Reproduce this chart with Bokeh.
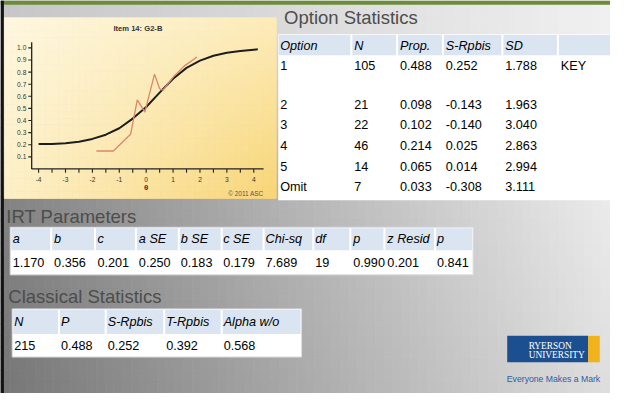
import numpy as np
from bokeh.plotting import figure
from bokeh.models import Range1d
from bokeh.core.properties import value
from bokeh.embed import file_html
from bokeh.resources import INLINE

# ---------------- data ----------------
chart_title = "Item 14: G2-B"
theta_labels = [-4, -3, -2, -1, 0, 1, 2, 3, 4]
theta_minor = [-4, -3.5, -3, -2.5, -2, -1.5, -1, -0.5, 0, 0.5, 1, 1.5, 2, 2.5, 3, 3.5, 4]
prob_ticks = [0.1, 0.2, 0.3, 0.4, 0.5, 0.6, 0.7, 0.8, 0.9, 1.0]
x_axis_title = "θ"
copyright_text = "© 2011 ASC"

icc_theta = [-4.0, -3.5, -3.0, -2.5, -2.0, -1.5, -1.0, -0.5, 0.0, 0.5, 1.0, 1.5, 2.0, 2.5, 3.0, 3.5, 4.0, 4.15]
icc_prob = [0.205, 0.207, 0.212, 0.224, 0.248, 0.283, 0.336, 0.416, 0.512, 0.630, 0.745, 0.835, 0.895, 0.935, 0.960, 0.975, 0.985, 0.988]

emp_theta = [-1.85, -1.22, -0.58, -0.33, -0.05, 0.31, 0.50, 0.62, 1.05, 1.41, 1.89]
emp_prob = [0.148, 0.148, 0.286, 0.571, 0.470, 0.783, 0.663, 0.650, 0.770, 0.849, 0.925]

opt_title = "Option Statistics"
opt_headers = ["Option", "N", "Prop.", "S-Rpbis", "SD", ""]
opt_option = ["1", "2", "3", "4", "5", "Omit"]
opt_n = ["105", "21", "22", "46", "14", "7"]
opt_prop = ["0.488", "0.098", "0.102", "0.214", "0.065", "0.033"]
opt_srpbis = ["0.252", "-0.143", "-0.140", "0.025", "0.014", "-0.308"]
opt_sd = ["1.788", "1.963", "3.040", "2.863", "2.994", "3.111"]
opt_flag = ["KEY", "", "", "", "", ""]

irt_title = "IRT Parameters"
irt_headers = ["a", "b", "c", "a SE", "b SE", "c SE", "Chi-sq", "df", "p", "z Resid", "p"]
irt_values = ["1.170", "0.356", "0.201", "0.250", "0.183", "0.179", "7.689", "19", "0.990", "0.201", "0.841"]

cls_title = "Classical Statistics"
cls_headers = ["N", "P", "S-Rpbis", "T-Rpbis", "Alpha w/o"]
cls_values = ["215", "0.488", "0.252", "0.392", "0.568"]

logo_lines = ["RYERSON", "UNIVERSITY"]
logo_tagline = "Everyone Makes a Mark"

# ---------------- layout / style ----------------
SW, SH = 626, 409           # slide coordinate space
W, H = 610, 393             # figure size (fits window with 8px margin)
FS = W / SW                 # font scale
SANS = "Liberation Sans"
SERIF = "Liberation Serif"

# IRT chart calibration (slide px)
TX0, TXS = 149.5, 27.6      # theta 0 position, px per theta unit
PY0, PYS = 175.3, 126.0     # prob 0 position, px per prob unit

p = figure(width=W, height=H, x_range=Range1d(0, SW), y_range=Range1d(SH, 0),
           output_backend="svg", toolbar_location=None, min_border=0,
           x_axis_location=None, y_axis_location=None)
p.grid.visible = False
p.outline_line_color = None
p.background_fill_color = "#ffffff"
p.border_fill_color = "#ffffff"
p.extra_x_ranges = {"theta": Range1d((0 - TX0) / TXS, (SW - TX0) / TXS)}
p.extra_y_ranges = {"prob": Range1d((PY0 - SH) / PYS, (PY0 - 0) / PYS)}


def hexc(r, g, b):
    return "#%02x%02x%02x" % (int(round(r)), int(round(g)), int(round(b)))


def grad_cells(x0, x1, y0, y1, nx, ny, colfun):
    xs = np.linspace(x0, x1, nx + 1)
    ys = np.linspace(y0, y1, ny + 1)
    L, R, T, B, C = [], [], [], [], []
    for i in range(nx):
        for j in range(ny):
            cx = (xs[i] + xs[i + 1]) / 2
            cy = (ys[j] + ys[j + 1]) / 2
            L.append(xs[i]); R.append(xs[i + 1]); T.append(ys[j]); B.append(ys[j + 1])
            C.append(hexc(*colfun(cx, cy)))
    p.quad(left=L, right=R, top=T, bottom=B, fill_color=C, line_color=C, line_width=0.8)


def bg_col(x, y):
    t = x / SW
    if y <= 35:
        l, r = 198, 240
    elif y <= 206:
        f = (y - 35) / 171
        l, r = 198 + (130 - 198) * f, 240 + (235 - 240) * f
    else:
        f = (y - 206) / 203
        l, r = 130 + (118 - 130) * f, 235 + (222 - 235) * f
    v = l + (r - l) * t
    return (v, v, v)


def panel_col(x, y):
    u = (x - 4) / 279
    v = (y - 18) / 188
    tl, tr, bl, br = (254, 247, 224), (252, 236, 186), (253, 240, 200), (248, 213, 118)
    return tuple(tl[k] * (1 - u) * (1 - v) + tr[k] * u * (1 - v) + bl[k] * (1 - u) * v + br[k] * u * v
                 for k in range(3))


# background
grad_cells(0, SW, 0, SH, 70, 34, bg_col)
p.quad(left=[0], right=[SW], top=[0], bottom=[4.5], fill_color="#6b8c38", line_color=None)
p.quad(left=[0], right=[3.5], top=[0], bottom=[SH], fill_color="#141414", line_color=None)

# chart panel
grad_cells(4, 283, 18, 206, 40, 27, panel_col)


def txt(xs, ys, texts, size, color="#000000", style="normal", align="left",
        baseline="middle", font=SANS, **kw):
    p.text(x=xs, y=ys, text=texts, text_font=value(font),
           text_font_size=value("%.2fpx" % (size * FS)), text_color=color,
           text_font_style=style, text_align=align, text_baseline=baseline, **kw)


TH = dict(x_range_name="theta", y_range_name="prob")
ax_theta = (32 - TX0) / TXS
ax_theta_end = (270 - TX0) / TXS
ax_prob_top = (PY0 - 43.5) / PYS
AX = "#222222"

# axes
p.segment(x0=[ax_theta], y0=[0], x1=[ax_theta], y1=[ax_prob_top], line_color=AX, line_width=1.3, **TH)
p.segment(x0=[ax_theta], y0=[0], x1=[ax_theta_end], y1=[0], line_color=AX, line_width=1.3, **TH)
p.segment(x0=[ax_theta] * len(prob_ticks), y0=prob_ticks,
          x1=[ax_theta - 3.5 / TXS] * len(prob_ticks), y1=prob_ticks,
          line_color=AX, line_width=1.1, **TH)
p.segment(x0=theta_minor, y0=[0] * len(theta_minor), x1=theta_minor,
          y1=[-4.0 / PYS] * len(theta_minor), line_color=AX, line_width=1.1, **TH)

txt([ax_theta - 5.5 / TXS] * len(prob_ticks), prob_ticks, ["%.1f" % v for v in prob_ticks],
    6.8, "#333333", align="right", **TH)
txt(theta_labels, [-11.5 / PYS] * len(theta_labels), [str(v) for v in theta_labels],
    6.8, "#333333", align="center", **TH)
txt([0], [-19.5 / PYS], [x_axis_title], 8, "#333333", style="bold", align="center", **TH)
txt([270], [200.5], [copyright_text], 6.6, "#555555", align="right")
txt([141], [29.5], [chart_title], 7.8, "#333333", style="bold", align="center")

# curves
p.line(icc_theta, icc_prob, line_color="#1e1e1e", line_width=2.0, **TH)
p.line(emp_theta, emp_prob, line_color="#d8876d", line_width=1.3, **TH)

# ---------------- tables ----------------
TITLE_C = "#4d4d4d"
HEAD_BG = "#dbe5f1"
TFS = 13.0

# Option statistics
p.quad(left=[285], right=[SW], top=[35], bottom=[208], fill_color="#ffffff", line_color=None)
p.quad(left=[285.5], right=[SW], top=[36], bottom=[57], fill_color=HEAD_BG, line_color=None)
opt_cols = [287, 363, 410, 457, 518, 575]
opt_seps = [360, 407, 454, 515, 572]
p.segment(x0=opt_seps, y0=[36] * 5, x1=opt_seps, y1=[57] * 5, line_color="#ffffff", line_width=2)
txt(opt_cols, [47] * 6, opt_headers, TFS, style="italic")
opt_rows_y = [68, 108, 129.5, 151, 172.5, 194]
for cx, col in zip(opt_cols, [opt_option, opt_n, opt_prop, opt_srpbis, opt_sd, opt_flag]):
    txt([cx] * len(col), opt_rows_y, col, TFS)
txt([291], [18.2], [opt_title], 19, TITLE_C)

# IRT parameters
p.quad(left=[10], right=[485], top=[236], bottom=[285.5], fill_color="#ffffff",
       line_color="#dcdcdc", line_width=1)
p.quad(left=[11], right=[484], top=[237], bottom=[260], fill_color=HEAD_BG, line_color=None)
irt_cols = [12.5, 55, 99.5, 142, 185, 228.5, 272, 323, 362, 397, 448]
irt_seps = [52, 97, 139, 183, 227, 270, 321, 359, 394, 446]
p.segment(x0=irt_seps, y0=[237] * len(irt_seps), x1=irt_seps, y1=[260] * len(irt_seps),
          line_color="#ffffff", line_width=2)
txt(irt_cols, [248.5] * len(irt_headers), irt_headers, TFS, style="italic")
txt(irt_cols, [272.5] * len(irt_values), irt_values, TFS)
txt([6], [225], [irt_title], 19, TITLE_C)

# Classical statistics
p.quad(left=[12], right=[309], top=[321], bottom=[371], fill_color="#ffffff",
       line_color="#dcdcdc", line_width=1)
p.quad(left=[13], right=[308], top=[322], bottom=[347], fill_color=HEAD_BG, line_color=None)
cls_cols = [14, 62, 110, 170, 229]
cls_seps = [60, 108, 168, 227]
p.segment(x0=cls_seps, y0=[322] * 4, x1=cls_seps, y1=[347] * 4, line_color="#ffffff", line_width=2)
txt(cls_cols, [334.5] * 5, cls_headers, TFS, style="italic")
txt(cls_cols, [359] * 5, cls_values, TFS)
txt([8], [308], [cls_title], 19, TITLE_C)

# logo
p.quad(left=[520], right=[603], top=[349], bottom=[376.5], fill_color="#1b4f8f", line_color=None)
p.quad(left=[603], right=[615], top=[349], bottom=[376.5], fill_color="#f1b31c", line_color=None)
txt([542, 542], [359.5, 369], logo_lines, 9.6, "#ffffff", font=SERIF)
txt([567.5], [393.5], [logo_tagline], 8.9, "#2a5ca6", align="center")

open("out.html", "w").write(file_html(p, INLINE))
